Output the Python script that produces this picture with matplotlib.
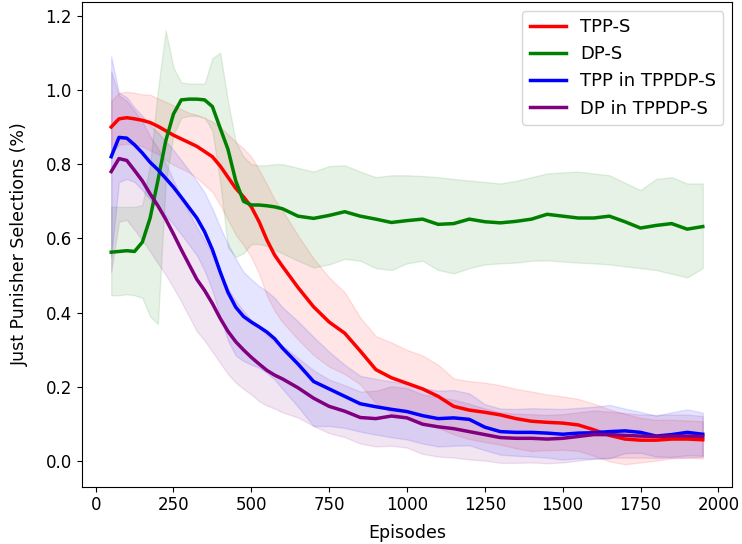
import numpy as np
import matplotlib
matplotlib.use("Agg")
import matplotlib.pyplot as plt

episodes = [50, 75, 100, 125, 150, 175, 200, 225, 250, 275, 300, 325, 350, 375, 400, 425, 450, 475,
            500, 525, 550, 575, 600, 650, 700, 750, 800, 850, 900, 950, 1000, 1050, 1100, 1150,
            1200, 1250, 1300, 1350, 1400, 1450, 1500, 1550, 1600, 1650, 1700, 1750, 1800, 1850,
            1900, 1950]

# TPP-S
tpp_s_mean = [0.90, 0.922, 0.925, 0.922, 0.918, 0.912, 0.902, 0.89, 0.878, 0.868, 0.858, 0.848,
              0.834, 0.82, 0.795, 0.765, 0.735, 0.712, 0.685, 0.645, 0.596, 0.555, 0.525, 0.468,
              0.416, 0.375, 0.345, 0.297, 0.247, 0.225, 0.21, 0.195, 0.175, 0.148, 0.138, 0.132,
              0.125, 0.115, 0.108, 0.105, 0.103, 0.098, 0.085, 0.07, 0.06, 0.057, 0.057, 0.06,
              0.06, 0.058]
tpp_s_std = [0.07, 0.07, 0.07, 0.07, 0.07, 0.075, 0.075, 0.078, 0.08, 0.08, 0.08, 0.085, 0.09,
             0.095, 0.105, 0.115, 0.125, 0.13, 0.135, 0.14, 0.15, 0.15, 0.15, 0.14, 0.13, 0.12,
             0.11, 0.09, 0.09, 0.095, 0.09, 0.09, 0.085, 0.075, 0.078, 0.08, 0.08, 0.08, 0.08,
             0.075, 0.072, 0.07, 0.07, 0.07, 0.068, 0.06, 0.055, 0.052, 0.05, 0.05]

# DP-S
dp_s_mean = [0.563, 0.565, 0.567, 0.565, 0.59, 0.655, 0.756, 0.862, 0.935, 0.973, 0.975, 0.975,
             0.973, 0.955, 0.897, 0.84, 0.755, 0.70, 0.69, 0.69, 0.688, 0.685, 0.68, 0.66, 0.654,
             0.662, 0.672, 0.66, 0.652, 0.643, 0.648, 0.652, 0.638, 0.64, 0.652, 0.645, 0.642,
             0.646, 0.652, 0.665, 0.66, 0.655, 0.655, 0.66, 0.645, 0.628, 0.635, 0.64, 0.625,
             0.632]
dp_s_low = [0.447, 0.447, 0.45, 0.447, 0.44, 0.39, 0.37, 0.75, 0.88, 0.925, 0.93, 0.93, 0.925,
            0.89, 0.75, 0.576, 0.55, 0.56, 0.585, 0.585, 0.58, 0.57, 0.56, 0.54, 0.522, 0.53,
            0.545, 0.54, 0.52, 0.515, 0.533, 0.54, 0.515, 0.506, 0.52, 0.53, 0.533, 0.535, 0.54,
            0.541, 0.538, 0.535, 0.533, 0.53, 0.525, 0.52, 0.515, 0.505, 0.495, 0.52]
dp_s_high = [0.685, 0.685, 0.685, 0.685, 0.69, 0.80, 1.0, 1.16, 1.06, 1.02, 1.017, 1.017, 1.017,
             1.085, 1.10, 0.97, 0.86, 0.82, 0.80, 0.797, 0.797, 0.80, 0.80, 0.79, 0.78, 0.795,
             0.797, 0.78, 0.765, 0.77, 0.77, 0.768, 0.765, 0.76, 0.756, 0.752, 0.748, 0.755, 0.765,
             0.775, 0.778, 0.78, 0.775, 0.77, 0.75, 0.73, 0.76, 0.765, 0.748, 0.748]

# TPP in TPPDP-S
tpp_mix_mean = [0.82, 0.872, 0.87, 0.852, 0.83, 0.805, 0.785, 0.762, 0.738, 0.711, 0.683, 0.655,
                0.618, 0.57, 0.51, 0.455, 0.415, 0.39, 0.375, 0.362, 0.348, 0.33, 0.305, 0.262,
                0.215, 0.195, 0.175, 0.155, 0.147, 0.14, 0.134, 0.123, 0.115, 0.117, 0.113, 0.092,
                0.08, 0.078, 0.078, 0.076, 0.073, 0.076, 0.077, 0.08, 0.082, 0.078, 0.068, 0.072,
                0.078, 0.073]
tpp_mix_std = [0.27, 0.12, 0.11, 0.10, 0.10, 0.10, 0.10, 0.10, 0.10, 0.10, 0.10, 0.10, 0.105,
               0.11, 0.12, 0.13, 0.13, 0.12, 0.115, 0.11, 0.11, 0.11, 0.11, 0.115, 0.12, 0.10,
               0.085, 0.075, 0.075, 0.075, 0.075, 0.075, 0.075, 0.075, 0.07, 0.062, 0.062, 0.063,
               0.065, 0.066, 0.068, 0.068, 0.07, 0.072, 0.06, 0.055, 0.055, 0.06, 0.062, 0.058]

# DP in TPPDP-S
dp_mix_mean = [0.78, 0.815, 0.81, 0.783, 0.755, 0.72, 0.688, 0.652, 0.612, 0.57, 0.53, 0.49,
               0.46, 0.425, 0.385, 0.35, 0.322, 0.30, 0.28, 0.262, 0.245, 0.232, 0.222, 0.198,
               0.17, 0.148, 0.135, 0.118, 0.115, 0.122, 0.117, 0.10, 0.093, 0.088, 0.08, 0.072,
               0.064, 0.062, 0.062, 0.06, 0.062, 0.067, 0.072, 0.072, 0.07, 0.068, 0.067, 0.068,
               0.068, 0.067]
dp_mix_std = [0.27, 0.17, 0.16, 0.16, 0.16, 0.155, 0.155, 0.15, 0.145, 0.14, 0.14, 0.14, 0.135,
              0.13, 0.12, 0.115, 0.11, 0.105, 0.10, 0.10, 0.095, 0.09, 0.09, 0.08, 0.075, 0.072,
              0.07, 0.07, 0.075, 0.08, 0.08, 0.08, 0.08, 0.078, 0.075, 0.07, 0.068, 0.066, 0.065,
              0.065, 0.065, 0.065, 0.065, 0.062, 0.06, 0.058, 0.058, 0.058, 0.058, 0.055]

labels = ["TPP-S", "DP-S", "TPP in TPPDP-S", "DP in TPPDP-S"]
colors = ["red", "green", "blue", "purple"]

plt.rcParams["font.size"] = 12
fig = plt.figure(figsize=(7.42, 5.44), dpi=100)
ax = fig.add_axes([0.110, 0.1055, 0.877, 0.8905])

x = np.array(episodes)

def band(mean, std):
    m = np.array(mean)
    s = np.array(std)
    return m - s, m + s

series = [
    (tpp_s_mean, *band(tpp_s_mean, tpp_s_std)),
    (dp_s_mean, np.array(dp_s_low), np.array(dp_s_high)),
    (tpp_mix_mean, *band(tpp_mix_mean, tpp_mix_std)),
    (dp_mix_mean, *band(dp_mix_mean, dp_mix_std)),
]

for (mean, lo, hi), lab, col in zip(series, labels, colors):
    ax.plot(x, mean, color=col, lw=2.5, label=lab)
    ax.fill_between(x, lo, hi, color=col, alpha=0.1)

ax.set_xlim(-45, 2045)
ax.set_ylim(-0.068, 1.236)
ax.set_xticks([0, 250, 500, 750, 1000, 1250, 1500, 1750, 2000])
ax.set_yticks([0.0, 0.2, 0.4, 0.6, 0.8, 1.0, 1.2])
ax.set_xlabel("Episodes", fontsize=12.5, labelpad=7)
ax.set_ylabel("Just Punisher Selections (%)", fontsize=12.5, labelpad=12)
ax.legend(loc="upper right", fontsize=13)

fig.savefig("out.png", dpi=100)
